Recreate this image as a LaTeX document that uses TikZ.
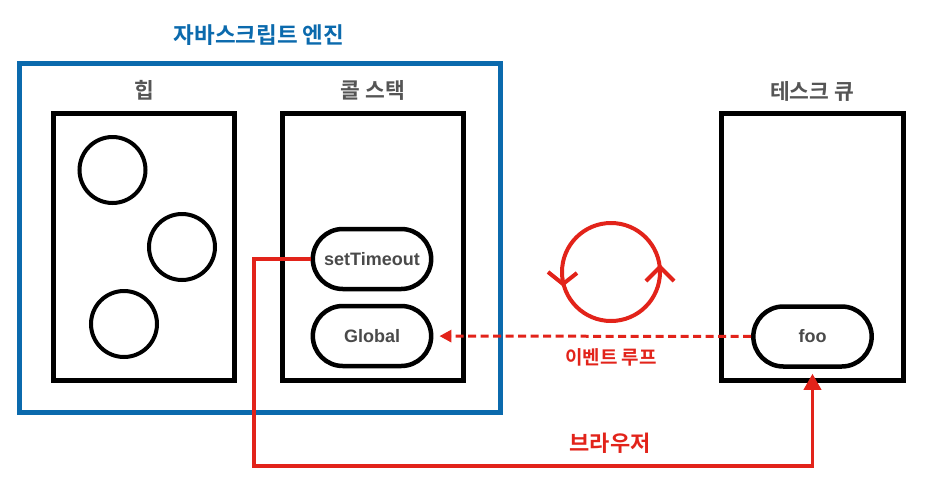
\documentclass[tikz,border=0pt]{standalone}
\usepackage{fontspec}
\setmainfont{Liberation Sans}
\newfontfamily\kr{Noto Sans CJK KR}[BoldFont={Noto Sans CJK KR Bold}]
\usetikzlibrary{arrows.meta,shapes.misc}
\definecolor{engineblue}{HTML}{0B6AAD}
\definecolor{loopred}{HTML}{E2231A}
\definecolor{labelgray}{HTML}{555555}
\definecolor{textgray}{HTML}{4A4A4A}
\begin{document}
\begin{tikzpicture}[x=1pt, y=1pt,
  box/.style={rectangle, draw, line width=5pt, minimum width=181.5pt, minimum height=267pt},
  pill/.style={rounded rectangle, draw, line width=4.5pt, minimum width=125pt, minimum height=60pt,
    font=\fontsize{18}{21}\selectfont\bfseries, text=textgray},
  heapobj/.style={circle, draw, line width=4pt, minimum size=66pt},
  title/.style={font=\kr\bfseries\fontsize{21.5}{25}\selectfont, text=labelgray},
  redlabel/.style={font=\kr\bfseries\fontsize{19}{23}\selectfont, text=loopred}]
\useasboundingbox (0,0) rectangle (927,-491);

\node[rectangle, draw=engineblue, line width=5pt, minimum width=481.5pt, minimum height=349.5pt] (engine) at (260,-238) {};
\node[title, text=engineblue, font=\kr\bfseries\fontsize{22.5}{26}\selectfont] (t0) at (259,-35) {자바스크립트 엔진};

\node[box] (heap) at (144,-247) {};
\node[box] (stack) at (373,-247) {};
\node[box] (queue) at (812.5,-247) {};
\node[title] (t1) at (144,-90) {힙};
\node[title] (t2) at (373,-90) {콜 스택};
\node[title] (t3) at (812,-91) {테스크 큐};

\node[heapobj] (o1) at (112.5,-170) {};
\node[heapobj] (o2) at (182,-247) {};
\node[heapobj] (o3) at (124,-324) {};

\node[pill] (st) at (372,-259) {setTimeout};
\node[pill] (gl) at (372,-336) {Global};
\node[pill] (foo) at (812.5,-336.5) {foo};

% event loop
\draw[loopred, line width=4pt] (611,-272) circle[radius=49];
\draw[loopred, line width=4pt] (548,-272) -- (563,-284) -- (577,-273);
\draw[loopred, line width=4pt] (646,-281) -- (660,-267) -- (674,-281);

\draw[loopred, line width=3pt, dash pattern=on 8pt off 4.5pt, -{Triangle[width=12pt, length=12pt]}, shorten >=6pt] (foo) -- (gl);
\node[redlabel] (l1) at (611,-357) {이벤트 루프};

\coordinate (c1) at (254,-466);
\draw[loopred, line width=3.5pt, -{Triangle[width=17pt, length=16pt]}, shorten >=5pt] (st.west) -| (c1) -| (foo.south);
\node[redlabel, font=\kr\bfseries\fontsize{22}{26}\selectfont] (l2) at (610,-443) {브라우저};

\end{tikzpicture}
\end{document}
